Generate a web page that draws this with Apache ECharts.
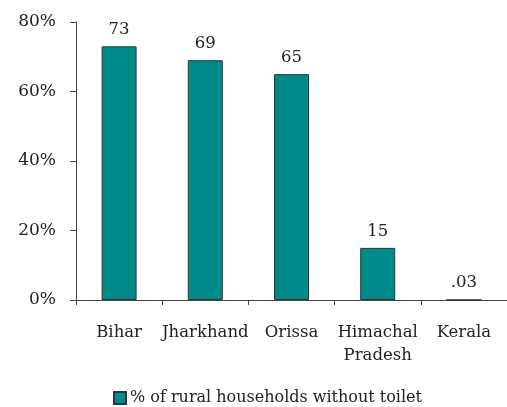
<!DOCTYPE html>
<html>
<head>
<meta charset="utf-8">
<script src="https://cdn.jsdelivr.net/npm/echarts@6/dist/echarts.min.js"></script>
<style>
  html, body { margin: 0; padding: 0; background: #ffffff; }
  #chart { width: 507px; height: 407px; }
</style>
</head>
<body>
<div id="chart"></div>
<script>
// States and share of rural households without a toilet (%)
const states = ['Bihar', 'Jharkhand', 'Orissa', 'Himachal\nPradesh', 'Kerala'];
const noToilet = [73, 69, 65, 15, 0.03];
const seriesName = '% of rural households without toilet';
const yTicks = { min: 0, max: 80, step: 20 };

const FONT = 'DejaVu Serif';
const TEAL = '#008b8b';

// Value label: drop the leading zero for fractions (0.03 -> .03)
const fmtValue = v => (v < 1 ? String(v).replace(/^0(?=\.)/, '') : String(v));

const chart = echarts.init(document.getElementById('chart'), null, { renderer: 'canvas' });
chart.setOption({
  animation: false,
  backgroundColor: '#ffffff',
  textStyle: { fontFamily: FONT },
  grid: { left: 76, top: 22, bottom: 107, width: 440, containLabel: false },
  legend: {
    top: 390,
    left: 108,
    padding: [0, 5, 0, 5],
    itemWidth: 12,
    itemHeight: 12,
    itemGap: 4,
    data: [{ name: seriesName, icon: 'rect' }],
    textStyle: { fontFamily: FONT, fontSize: 16, color: '#222', padding: [0, 0, 0, -1] }
  },
  xAxis: {
    type: 'category',
    data: states,
    axisLine: { lineStyle: { color: '#444', width: 1 } },
    axisTick: { show: true, length: 5, lineStyle: { color: '#444' } },
    axisLabel: {
      margin: 21,
      fontFamily: FONT,
      fontSize: 16.5,
      color: '#222',
      lineHeight: 23,
      interval: 0
    },
    splitLine: { show: false }
  },
  yAxis: {
    type: 'value',
    min: yTicks.min,
    max: yTicks.max,
    interval: yTicks.step,
    axisLine: { show: true, lineStyle: { color: '#444', width: 1 } },
    axisTick: { show: true, length: 6, lineStyle: { color: '#444' } },
    axisLabel: {
      formatter: '{value}%',
      margin: 20,
      fontFamily: FONT,
      fontSize: 17,
      color: '#222'
    },
    splitLine: { show: false }
  },
  series: [{
    name: seriesName,
    type: 'bar',
    data: noToilet,
    barWidth: 35,
    itemStyle: { color: TEAL, borderColor: '#333', borderWidth: 1 },
    label: {
      show: true,
      position: 'top',
      distance: 8,
      fontFamily: FONT,
      fontSize: 16.5,
      color: '#222',
      formatter: p => fmtValue(p.value)
    }
  }]
});
</script>
</body>
</html>
